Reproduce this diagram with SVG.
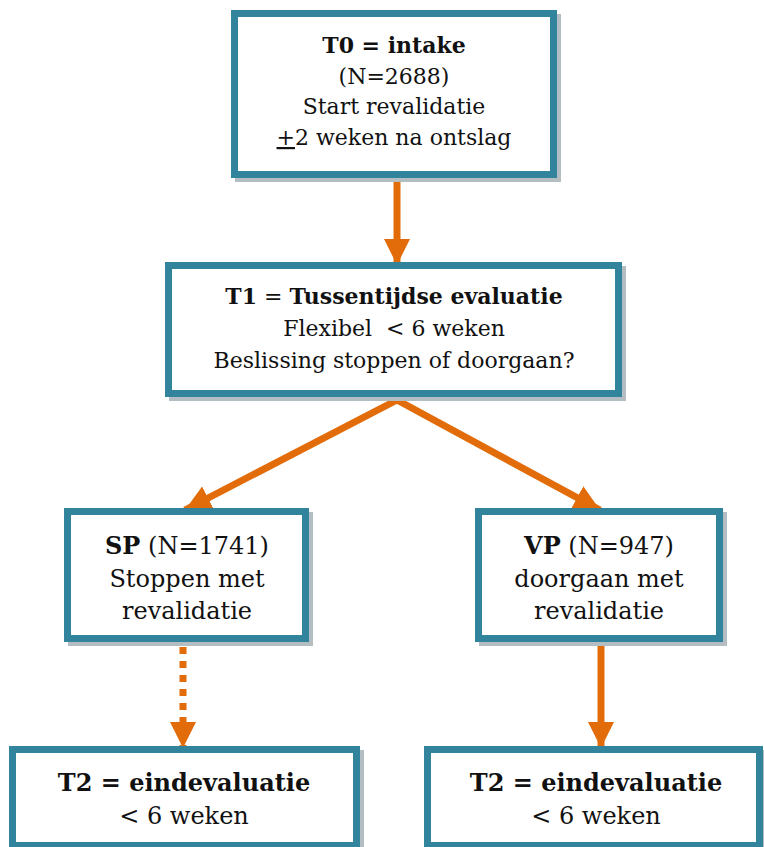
<svg xmlns="http://www.w3.org/2000/svg" width="764" height="847" viewBox="0 0 764 847">
<defs>
<style>
.box{fill:#fff;stroke:#31849B;stroke-width:7}
.sh{fill:#B4BEC2}
.t{font-family:"DejaVu Serif","Liberation Serif",serif;font-size:22px;fill:#111;text-anchor:middle}
.l{font-size:24px}
.b{font-weight:bold}
.c{stroke:#E36C0A;stroke-width:7;fill:none}
</style>
<marker id="ah" markerUnits="userSpaceOnUse" markerWidth="26" markerHeight="26" viewBox="0 0 26 26" refX="26" refY="13" orient="auto">
<path d="M0,0 L26,13 L0,26 Z" fill="#E36C0A"/>
</marker>
</defs>
<rect width="764" height="847" fill="#fff"/>
<g id="connectors">
<line class="c" x1="397" y1="182" x2="397" y2="265" marker-end="url(#ah)"/>
<line class="c" x1="397" y1="400" x2="185" y2="510" marker-end="url(#ah)"/>
<line class="c" x1="397" y1="400" x2="600" y2="510" marker-end="url(#ah)"/>
<line class="c" x1="183" y1="647" x2="183" y2="748" stroke-dasharray="7,7" marker-end="url(#ah)"/>
<line class="c" x1="601" y1="646" x2="601" y2="748" marker-end="url(#ah)"/>
</g>
<g id="t0">
<rect class="sh" x="235" y="14" width="326" height="168"/>
<rect class="box" x="234.5" y="13.5" width="319" height="161"/>
<text class="t b" x="394" y="53">T0 = intake</text>
<text class="t" x="394" y="84">(N=2688)</text>
<text class="t" x="394" y="114">Start revalidatie</text>
<text class="t" x="394" y="145"><tspan text-decoration="underline">+</tspan>2 weken na ontslag</text>
</g>
<g id="t1">
<rect class="sh" x="169" y="266" width="457" height="135"/>
<rect class="box" x="168.5" y="265.5" width="450" height="128"/>
<text class="t" x="394" y="304"><tspan class="b">T1</tspan> = <tspan class="b">Tussentijdse evaluatie</tspan></text>
<text class="t" x="394" y="336">Flexibel&#160; &lt; 6 weken</text>
<text class="t" x="394" y="368">Beslissing stoppen of doorgaan?</text>
</g>
<g id="sp">
<rect class="sh" x="68" y="512" width="245" height="134"/>
<rect class="box" x="67.5" y="511.5" width="238" height="127"/>
<text class="t l" x="187" y="554"><tspan class="b">SP</tspan> (N=1741)</text>
<text class="t l" x="187" y="587">Stoppen met</text>
<text class="t l" x="187" y="619">revalidatie</text>
</g>
<g id="vp">
<rect class="sh" x="479" y="512" width="248" height="134"/>
<rect class="box" x="478.5" y="511.5" width="241" height="127"/>
<text class="t l" x="599" y="554"><tspan class="b">VP</tspan> (N=947)</text>
<text class="t l" x="599" y="587">doorgaan met</text>
<text class="t l" x="599" y="619">revalidatie</text>
</g>
<g id="t2a">
<rect class="sh" x="13" y="750" width="351" height="103"/>
<rect class="box" x="12.5" y="749.5" width="344" height="96"/>
<text class="t l b" x="184" y="791">T2 = eindevaluatie</text>
<text class="t l" x="184" y="824">&lt; 6 weken</text>
</g>
<g id="t2b">
<rect class="sh" x="428" y="750" width="339" height="103"/>
<rect class="box" x="427.5" y="749.5" width="332" height="96"/>
<text class="t l b" x="596" y="791">T2 = eindevaluatie</text>
<text class="t l" x="596" y="824">&lt; 6 weken</text>
</g>
</svg>
